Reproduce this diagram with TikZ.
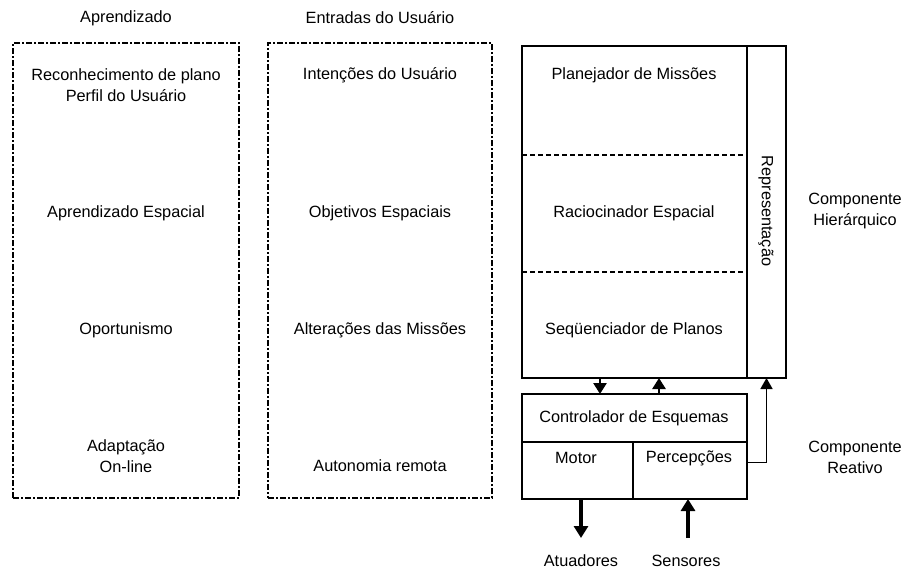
\documentclass[tikz,border=0pt]{standalone}
\usepackage{fontspec}
\setmainfont{Liberation Sans}
\usetikzlibrary{arrows.meta}
\begin{document}
\begin{tikzpicture}[x=1pt,y=-1pt,
  every node/.style={font=\fontsize{16.3}{21}\selectfont, inner sep=0pt, outer sep=0pt},
  groupbox/.style={draw, line width=2.8pt, dash pattern=on 6pt off 2pt on 2pt off 2pt, anchor=north west},
  solidbox/.style={draw, line width=2.4pt, anchor=north west},
  layer/.style={draw, line width=2.4pt, dash pattern=on 5pt off 3pt},
  lbl/.style={align=center},
  flow/.style={line width=2.6pt, -{Triangle[width=13pt,length=11pt]}},
  bigflow/.style={line width=3.4pt, -{Triangle[width=14pt,length=12pt]}},
  feed/.style={line width=1.6pt, -{Triangle[width=12pt,length=11pt]}}]
\useasboundingbox (0,0) rectangle (911,571);

% column headings
\node[lbl] (hlearn) at (126,18) {Aprendizado};
\node[lbl] (hinput) at (380,18) {Entradas do Usuário};

% learning column
\node[groupbox, minimum width=226pt, minimum height=455pt] (learn) at (13,43) {};
\node[lbl] (l1) at (126,85) {Reconhecimento de plano\\Perfil do Usuário};
\node[lbl] (l2) at (126,213) {Aprendizado Espacial};
\node[lbl] (l3) at (126,330) {Oportunismo};
\node[lbl] (l4) at (126,456) {Adaptação\\On-line};

% user input column
\node[groupbox, minimum width=224pt, minimum height=455pt] (input) at (268,43) {};
\node[lbl] (u1) at (380,75) {Intenções do Usuário};
\node[lbl] (u2) at (380,213) {Objetivos Espaciais};
\node[lbl] (u3) at (380,330) {Alterações das Missões};
\node[lbl] (u4) at (380,466) {Autonomia remota};

% hierarchical component
\node[solidbox, minimum width=225pt, minimum height=332pt] (hier) at (522,46) {};
\node[solidbox, minimum width=39pt, minimum height=332pt] (rep) at (747,46) {};
\coordinate (d1) at (522,155);
\coordinate (d2) at (522,272);
\draw[layer] (d1) -- (d1 -| hier.east);
\draw[layer] (d2) -- (d2 -| hier.east);
\node[lbl] (p1) at (634,75) {Planejador de Missões};
\node[lbl] (p2) at (634,213) {Raciocinador Espacial};
\node[lbl] (p3) at (634,330) {Seqüenciador de Planos};
\node[lbl, rotate=-90] (reptxt) at (766,211) {Representação};

% reactive component
\node[solidbox, minimum width=225pt, minimum height=48pt] (ctrl) at (522,394) {};
\node[solidbox, minimum width=111pt, minimum height=57pt] (motor) at (522,442) {};
\node[solidbox, minimum width=114pt, minimum height=57pt] (perc) at (633,442) {};
\node[lbl] (ctrltxt) at (634,418) {Controlador de Esquemas};
\node[lbl] (motortxt) at (576,458) {Motor};
\node[lbl] (perctxt) at (689,458) {Percepções};

% links between the two components
\coordinate (cdown) at (600,0);
\coordinate (cup) at (659,0);
\draw[flow] (cdown |- hier.south) -- (cdown |- ctrl.north);
\draw[flow] (cup |- ctrl.north) -- (cup |- hier.south);
\draw[feed] ([yshift=8pt]perc.east) -| (rep.south);

% actuators and sensors
\coordinate (act) at (581,538);
\coordinate (sen) at (688,538);
\draw[bigflow] (act |- motor.south) -- (act);
\draw[bigflow] (sen) -- (sen |- perc.south);
\node[lbl] (acttxt) at (581,561) {Atuadores};
\node[lbl] (sentxt) at (686,561) {Sensores};

% side captions
\node[lbl] (chier) at (855,211) {Componente\\Hierárquico};
\node[lbl] (creact) at (855,457) {Componente\\Reativo};
\end{tikzpicture}
\end{document}
